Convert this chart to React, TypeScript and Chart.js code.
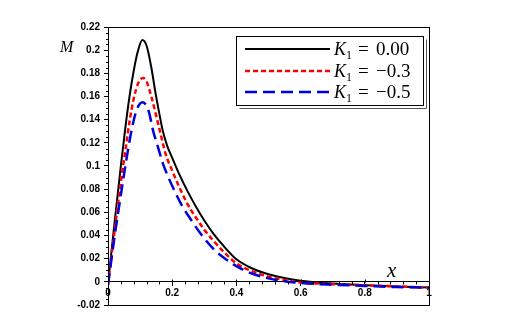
import React, { useEffect, useRef } from "react";
import { Chart, registerables } from "chart.js";

Chart.register(...registerables);

const seriesLabels = ["0.00", "\u22120.3", "\u22120.5"];
const seriesColors = ["#000000", "#ff0000", "#0000dd"];

const xBlack = [0, 0.02, 0.04, 0.054, 0.067, 0.08, 0.093, 0.107, 0.12, 0.135, 0.148, 0.16, 0.171, 0.185, 0.2, 0.22, 0.25, 0.28, 0.3, 0.33, 0.36, 0.4, 0.45, 0.5, 0.55, 0.6, 0.65, 0.7, 0.8, 0.9, 1];
const yBlack = [-0.002, 0.05, 0.1, 0.133, 0.16, 0.182, 0.199, 0.2087, 0.204, 0.185, 0.163, 0.145, 0.13, 0.117, 0.107, 0.094, 0.077, 0.062, 0.053, 0.041, 0.031, 0.0195, 0.0115, 0.0065, 0.0033, 0.001, -0.0005, -0.0015, -0.003, -0.004, -0.005];

const xRed = [0, 0.02, 0.04, 0.055, 0.068, 0.08, 0.095, 0.109, 0.12, 0.135, 0.161, 0.18, 0.2, 0.22, 0.25, 0.28, 0.3, 0.33, 0.36, 0.4, 0.45, 0.5, 0.55, 0.6, 0.7, 0.8, 0.9, 1];
const yRed = [-0.002, 0.043, 0.086, 0.115, 0.14, 0.158, 0.172, 0.176, 0.173, 0.16, 0.131, 0.11, 0.096, 0.083, 0.066, 0.053, 0.045, 0.035, 0.026, 0.016, 0.009, 0.0045, 0.0015, -0.0005, -0.002, -0.003, -0.004, -0.005];

const xBlue = [0, 0.02, 0.04, 0.06, 0.075, 0.09, 0.108, 0.12, 0.129, 0.14, 0.155, 0.17, 0.19, 0.21, 0.23, 0.26, 0.29, 0.33, 0.36, 0.4, 0.45, 0.5, 0.55, 0.6, 0.7, 0.8, 0.9, 1];
const yBlue = [-0.003, 0.038, 0.075, 0.11, 0.133, 0.149, 0.155, 0.152, 0.145, 0.131, 0.117, 0.103, 0.089, 0.077, 0.066, 0.053, 0.041, 0.028, 0.021, 0.0135, 0.007, 0.003, 0.0005, -0.001, -0.0025, -0.0035, -0.0045, -0.005];

const toPts = (xs: number[], ys: number[]) => xs.map((x, i) => ({ x, y: ys[i] }));

const fmt = (v: number) => {
  const n = Number(Number(v).toFixed(3));
  return String(n);
};

const decorPlugin = {
  id: "decor",
  afterDraw(chart: any) {
    const { ctx, chartArea, scales } = chart;
    const xs = scales.x;
    const ys = scales.y;
    ctx.save();
    ctx.strokeStyle = "#000";
    ctx.lineWidth = 1;
    // frame
    ctx.strokeRect(Math.round(chartArea.left) + 0.5, Math.round(chartArea.top) + 0.5, Math.round(chartArea.right - chartArea.left), Math.round(chartArea.bottom - chartArea.top));
    // y minor ticks
    for (let i = -4; i <= 44; i++) {
      if (i % 4 === 0) continue;
      const py = Math.round(ys.getPixelForValue(i * 0.005)) + 0.5;
      ctx.beginPath();
      ctx.moveTo(chartArea.left - 2, py);
      ctx.lineTo(chartArea.left, py);
      ctx.stroke();
    }
    // x minor ticks
    const y0 = Math.round(ys.getPixelForValue(0)) + 0.5;
    for (let i = 1; i < 25; i++) {
      if (i % 5 === 0) continue;
      const px = Math.round(xs.getPixelForValue(i * 0.04)) + 0.5;
      ctx.beginPath();
      ctx.moveTo(px, y0 - 1);
      ctx.lineTo(px, y0 + 2);
      ctx.stroke();
    }
    for (let i = 1; i < 5; i++) {
      const px = Math.round(xs.getPixelForValue(i * 0.2)) + 0.5;
      ctx.beginPath();
      ctx.moveTo(px, y0 - 3);
      ctx.lineTo(px, y0);
      ctx.stroke();
    }
    // axis titles
    ctx.fillStyle = "#000";
    ctx.font = "italic 16px 'Liberation Serif'";
    ctx.textBaseline = "alphabetic";
    ctx.textAlign = "left";
    ctx.fillText("M", 60, 52);
    ctx.font = "italic 21px 'Liberation Serif'";
    ctx.fillText("x", 387, 277);

    // legend
    const bx = 236.5, by = 36.5, bw = 187, bh = 69;
    ctx.fillStyle = "#fff";
    ctx.fillRect(bx, by, bw, bh);
    ctx.strokeStyle = "#000";
    ctx.lineWidth = 1;
    ctx.strokeRect(bx, by, bw, bh);
    ctx.strokeStyle = "#555";
    ctx.beginPath();
    ctx.moveTo(bx + bw + 3, by + 3);
    ctx.lineTo(bx + bw + 3, by + bh + 3);
    ctx.lineTo(bx + 3, by + bh + 3);
    ctx.stroke();
    const dashes = [[], [5, 3], [12, 6]];
    const widths = [2, 2.5, 2.5];
    const lineYs = [49, 71, 92];
    for (let i = 0; i < 3; i++) {
      ctx.strokeStyle = seriesColors[i];
      ctx.lineWidth = widths[i];
      ctx.setLineDash(dashes[i]);
      ctx.beginPath();
      ctx.moveTo(245, lineYs[i]);
      ctx.lineTo(330, lineYs[i]);
      ctx.stroke();
      ctx.setLineDash([]);
      const base = lineYs[i] + 6;
      ctx.fillStyle = "#000";
      ctx.font = "italic 18px 'Liberation Serif'";
      ctx.fillText("K", 334, base);
      ctx.font = "12px 'Liberation Serif'";
      ctx.fillText("1", 346, base + 4);
      ctx.font = "19px 'Liberation Serif'";
      ctx.fillText("=", 358, base);
      ctx.fillText(seriesLabels[i], 376, base);
    }
    ctx.restore();
  },
};

export default function App() {
  const ref = useRef<HTMLCanvasElement>(null);
  useEffect(() => {
    if (!ref.current) return;
    const tickFont = { family: "'Liberation Sans', Arial, sans-serif", size: 10, weight: "bold" as const };
    const chart = new Chart(ref.current, {
      type: "line",
      data: {
        datasets: [
          { label: "K1 = 0.00", data: toPts(xBlack, yBlack), borderColor: seriesColors[0], borderWidth: 2, order: 2 },
          { label: "K1 = -0.3", data: toPts(xRed, yRed), borderColor: seriesColors[1], borderWidth: 2.5, borderDash: [5, 3], order: 1 },
          { label: "K1 = -0.5", data: toPts(xBlue, yBlue), borderColor: seriesColors[2], borderWidth: 2.5, borderDash: [12, 6], order: 0 },
        ],
      },
      options: {
        animation: false,
        responsive: false,
        devicePixelRatio: 1,
        layout: { padding: { left: 0, top: 27, right: 86, bottom: 20 } },
        elements: { point: { radius: 0 }, line: { cubicInterpolationMode: "monotone", fill: false } },
        plugins: { legend: { display: false }, tooltip: { enabled: false } },
        scales: {
          x: {
            type: "linear",
            min: 0,
            max: 1,
            position: { y: 0 } as any,
            grid: { drawOnChartArea: false, tickLength: 4, color: "#000" },
            border: { color: "#000", width: 1 },
            ticks: { stepSize: 0.2, color: "#000", font: tickFont, padding: 1, maxRotation: 0, callback: (v: any) => fmt(v) },
          },
          y: {
            type: "linear",
            min: -0.02,
            max: 0.22,
            grid: { drawOnChartArea: false, tickLength: 4, color: "#000" },
            border: { color: "#000", width: 1 },
            ticks: { stepSize: 0.02, color: "#000", font: tickFont, padding: 4, callback: (v: any) => fmt(v) },
            afterFit: (s: any) => { s.width = 108; },
          },
        },
      },
      plugins: [decorPlugin],
    });
    return () => chart.destroy();
  }, []);
  return (
    <div style={{ position: "absolute", left: 0, top: 0, width: 515, height: 325, background: "#fff" }}>
      <canvas ref={ref} width={515} height={325} style={{ width: 515, height: 325 }} />
    </div>
  );
}
